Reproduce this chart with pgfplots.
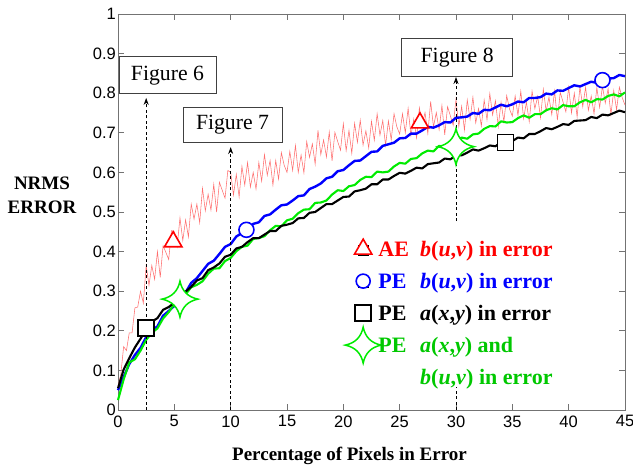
\documentclass[border=0pt]{standalone}
\usepackage{fontspec}
\setmainfont{Liberation Serif}
\newfontfamily\ticksf{Liberation Sans}
\usepackage{pgfplots}
\pgfplotsset{compat=1.18}
\usetikzlibrary{arrows.meta}
\definecolor{linegreen}{RGB}{0,235,0}
\definecolor{textgreen}{RGB}{0,200,0}
\definecolor{redline}{RGB}{255,110,110}
\pgfdeclareplotmark{sparkle}{%
 \pgfpathmoveto{\pgfqpoint{0pt}{\pgfplotmarksize}}%
 \pgfpathquadraticcurveto{\pgfqpoint{0.17\pgfplotmarksize}{0.17\pgfplotmarksize}}{\pgfqpoint{\pgfplotmarksize}{0pt}}%
 \pgfpathquadraticcurveto{\pgfqpoint{0.17\pgfplotmarksize}{-0.17\pgfplotmarksize}}{\pgfqpoint{0pt}{-\pgfplotmarksize}}%
 \pgfpathquadraticcurveto{\pgfqpoint{-0.17\pgfplotmarksize}{-0.17\pgfplotmarksize}}{\pgfqpoint{-\pgfplotmarksize}{0pt}}%
 \pgfpathquadraticcurveto{\pgfqpoint{-0.17\pgfplotmarksize}{0.17\pgfplotmarksize}}{\pgfqpoint{0pt}{\pgfplotmarksize}}%
 \pgfpathclose\pgfusepathqfillstroke}
\pgfplotsset{legmark/.style={legend image code/.code={\path (-5pt,-5pt) rectangle (5pt,5pt); \draw[##1,overlay] plot coordinates {(0pt,1.5pt)};}}}
\begin{document}
\begin{tikzpicture}
\begin{axis}[name=ax,
  scale only axis, width=507pt, height=396pt,
  xmin=0, xmax=45, ymin=0, ymax=1,
  xtick={0,5,10,15,20,25,30,35,40,45},
  ytick={0,0.1,0.2,0.3,0.4,0.5,0.6,0.7,0.8,0.9,1},
  tick align=inside, major tick length=6pt,
  axis line style={black!55, line width=0.7pt},
  tick style={black!55, line width=0.7pt},
  /pgf/number format/assume math mode=true,
  tick label style={font=\ticksf\fontsize{16.5}{19}\selectfont},
  yticklabel style={inner xsep=2pt},
  xticklabel style={yshift=-2pt},
  clip=false,
  xlabel={Percentage of Pixels in Error},
  every axis x label/.style={at={(rel axis cs:0.4566,0)}, anchor=base, yshift=-50pt, font=\fontsize{19}{22}\selectfont\bfseries},
  legend style={at={(axis cs:21.3,0.429)}, anchor=north west, draw=none, fill=none,
    inner sep=0pt, outer sep=0pt, column sep=10pt, row sep=11pt,
    font=\fontsize{22}{32}\selectfont\bfseries,
    nodes={inner sep=0pt, text height=16pt, text depth=5pt}},
  legend cell align=left,
]
% AE b(u,v)
\addplot[redline, line width=0.55pt, forget plot] coordinates {
(0,0.06)(0.25,0.09)(0.5,0.16)(0.75,0.15)(1,0.195)(1.25,0.195)(1.5,0.258)(1.75,0.26)(2,0.30)
(2.25,0.27)(2.5,0.365)(2.75,0.315)(3,0.365)(3.25,0.33)(3.5,0.40)(3.75,0.335)(4,0.415)(4.25,0.398)(4.5,0.38)(4.75,0.453)
(5,0.45)(5.25,0.413)(5.5,0.485)(5.75,0.428)(6,0.48)(6.25,0.437)(6.5,0.52)(6.75,0.482)(7,0.52)(7.25,0.473)
(7.5,0.56)(7.75,0.503)(8,0.545)(8.25,0.505)(8.5,0.57)(8.75,0.50)(9,0.575)(9.25,0.555)(9.5,0.535)(9.75,0.605)
(10,0.60)(10.25,0.543)(10.5,0.595)(10.75,0.538)(11,0.615)(11.25,0.568)(11.5,0.625)(11.75,0.563)(12,0.60)(12.25,0.558)
(12.5,0.625)(12.75,0.578)(13,0.645)(13.25,0.593)(13.5,0.63)(13.75,0.568)(14,0.63)(14.25,0.583)(14.5,0.65)(14.75,0.618)
(15,0.60)(15.25,0.653)(15.5,0.605)(15.75,0.668)(16,0.60)(16.25,0.644)(16.5,0.599)(16.75,0.678)(17,0.638)(17.25,0.672)
(17.5,0.621)(17.75,0.706)(18,0.645)(18.25,0.682)(18.5,0.639)(18.75,0.702)(19,0.629)(19.25,0.701)(19.5,0.678)(19.75,0.656)
(20,0.723)(20.25,0.655)(20.5,0.706)(20.75,0.648)(21,0.724)(21.25,0.676)(21.5,0.732)(21.75,0.669)(22,0.705)(22.25,0.662)
(22.5,0.729)(22.75,0.681)(23,0.748)(23.25,0.694)(23.5,0.731)(23.75,0.668)(24,0.73)(24.25,0.682)(24.5,0.748)(24.75,0.715)
(25,0.697)(25.25,0.748)(25.5,0.70)(25.75,0.762)(26,0.693)(26.25,0.735)(26.5,0.687)(26.75,0.763)(27,0.72)(27.25,0.751)
(27.5,0.698)(27.75,0.779)(28,0.715)(28.25,0.751)(28.5,0.708)(28.75,0.769)(29,0.695)(29.25,0.766)(29.5,0.743)(29.75,0.719)
(30,0.785)(30.25,0.716)(30.5,0.767)(30.75,0.707)(31,0.783)(31.25,0.734)(31.5,0.79)(31.75,0.725)(32,0.761)(32.25,0.717)
(32.5,0.783)(32.75,0.733)(33,0.799)(33.25,0.745)(33.5,0.781)(33.75,0.716)(34,0.777)(34.25,0.728)(34.5,0.794)(34.75,0.76)
(35,0.742)(35.25,0.793)(35.5,0.744)(35.75,0.805)(36,0.736)(36.25,0.777)(36.5,0.728)(36.75,0.805)(37,0.761)(37.25,0.792)
(37.5,0.738)(37.75,0.81)(38,0.755)(38.25,0.79)(38.5,0.746)(38.75,0.806)(39,0.732)(39.25,0.802)(39.5,0.778)(39.75,0.753)
(40,0.815)(40.25,0.75)(40.5,0.80)(40.75,0.74)(41,0.816)(41.25,0.766)(41.5,0.815)(41.75,0.757)(42,0.793)(42.25,0.748)
(42.5,0.814)(42.75,0.764)(43,0.818)(43.25,0.775)(43.5,0.811)(43.75,0.746)(44,0.807)(44.25,0.758)(44.5,0.815)(44.75,0.789)(45,0.77)
};
% PE b(u,v)
\addplot[blue, line width=2.4pt, line join=round, forget plot] coordinates {
(0,0.05)(0.5,0.083)(1,0.116)(1.5,0.139)(2,0.157)(2.5,0.184)(3,0.202)(3.5,0.211)(4,0.238)(4.5,0.25)
(5,0.263)(5.5,0.283)(6,0.297)(6.5,0.321)(7,0.333)(7.5,0.351)(8,0.369)(8.5,0.377)(9,0.394)(9.5,0.412)
(10,0.419)(10.5,0.438)(11,0.447)(11.5,0.455)(12,0.47)(12.5,0.474)(13,0.49)(13.5,0.494)(14,0.506)(14.5,0.517)
(15,0.519)(15.5,0.529)(16,0.54)(16.5,0.542)(17,0.558)(17.5,0.564)(18,0.572)(18.5,0.585)(19,0.589)(19.5,0.603)
(20,0.606)(20.5,0.618)(21,0.629)(21.5,0.63)(22,0.641)(22.5,0.652)(23,0.653)(23.5,0.667)(24,0.671)(24.5,0.675)
(25,0.686)(25.5,0.687)(26,0.698)(26.5,0.698)(27,0.706)(27.5,0.715)(28,0.713)(28.5,0.719)(29,0.727)(29.5,0.726)
(30,0.738)(30.5,0.739)(31,0.741)(31.5,0.75)(32,0.748)(32.5,0.758)(33,0.757)(33.5,0.764)(34,0.771)(34.5,0.767)
(35,0.772)(35.5,0.779)(36,0.777)(36.5,0.788)(37,0.788)(37.5,0.79)(38,0.799)(38.5,0.797)(39,0.807)(39.5,0.806)
(40,0.813)(40.5,0.82)(41,0.817)(41.5,0.823)(42,0.829)(42.5,0.826)(43,0.836)(43.5,0.837)(44,0.838)(44.5,0.846)(45,0.843)
};
% PE a(x,y) and b(u,v)
\addplot[linegreen, line width=2.1pt, line join=round, forget plot] coordinates {
(0,0.025)(0.5,0.077)(1,0.12)(1.5,0.128)(2,0.15)(2.5,0.177)(3,0.195)(3.5,0.206)(4,0.231)(4.5,0.247)
(5,0.268)(5.5,0.284)(6,0.292)(6.5,0.31)(7,0.316)(7.5,0.325)(8,0.344)(8.5,0.357)(9,0.358)(9.5,0.376)
(10,0.384)(10.5,0.401)(11,0.412)(11.5,0.415)(12,0.432)(12.5,0.434)(13,0.439)(13.5,0.454)(14,0.465)(14.5,0.464)
(15,0.479)(15.5,0.483)(16,0.497)(16.5,0.506)(17,0.507)(17.5,0.523)(18,0.524)(18.5,0.529)(19,0.544)(19.5,0.555)
(20,0.553)(20.5,0.565)(21,0.568)(21.5,0.581)(22,0.589)(22.5,0.588)(23,0.602)(23.5,0.60)(24,0.602)(24.5,0.615)
(25,0.624)(25.5,0.622)(26,0.634)(26.5,0.636)(27,0.648)(27.5,0.655)(28,0.653)(28.5,0.667)(29,0.665)(29.5,0.667)
(30,0.679)(30.5,0.688)(31,0.685)(31.5,0.696)(32,0.698)(32.5,0.71)(33,0.717)(33.5,0.716)(34,0.729)(34.5,0.726)
(35,0.727)(35.5,0.737)(36,0.744)(36.5,0.738)(37,0.747)(37.5,0.747)(38,0.757)(38.5,0.762)(39,0.759)(39.5,0.77)
(40,0.767)(40.5,0.767)(41,0.777)(41.5,0.783)(42,0.777)(42.5,0.785)(43,0.784)(43.5,0.793)(44,0.797)(44.5,0.792)(45,0.802)
};
% PE a(x,y)
\addplot[black, line width=2.1pt, line join=round, forget plot] coordinates {
(0,0.055)(0.5,0.102)(1,0.131)(1.5,0.158)(2,0.18)(2.5,0.203)(3,0.223)(3.5,0.232)(4,0.253)(4.5,0.26)
(5,0.271)(5.5,0.294)(6,0.299)(6.5,0.311)(7,0.327)(7.5,0.333)(8,0.353)(8.5,0.36)(9,0.37)(9.5,0.387)
(10,0.392)(10.5,0.408)(11,0.412)(11.5,0.424)(12,0.434)(12.5,0.434)(13,0.443)(13.5,0.452)(14,0.452)(14.5,0.465)
(15,0.468)(15.5,0.472)(16,0.484)(16.5,0.485)(17,0.498)(17.5,0.50)(18,0.51)(18.5,0.52)(19,0.52)(19.5,0.529)
(20,0.538)(20.5,0.539)(21,0.552)(21.5,0.555)(22,0.559)(22.5,0.57)(23,0.57)(23.5,0.582)(24,0.582)(24.5,0.591)
(25,0.599)(25.5,0.597)(26,0.604)(26.5,0.612)(27,0.61)(27.5,0.621)(28,0.623)(28.5,0.625)(29,0.635)(29.5,0.633)
(30,0.643)(30.5,0.643)(31,0.65)(31.5,0.658)(32,0.655)(32.5,0.661)(33,0.668)(33.5,0.666)(34,0.676)(34.5,0.677)
(35,0.679)(35.5,0.688)(36,0.686)(36.5,0.697)(37,0.697)(37.5,0.704)(38,0.712)(38.5,0.709)(39,0.715)(39.5,0.722)
(40,0.72)(40.5,0.73)(41,0.731)(41.5,0.732)(42,0.74)(42.5,0.737)(43,0.746)(43.5,0.744)(44,0.75)(44.5,0.756)(45,0.752)
};
% markers
\addplot[only marks, mark=triangle*, mark size=10pt, mark options={draw=red, fill=white, line width=1.6pt}, forget plot] coordinates {(4.9,0.425)(26.8,0.725)};
\addplot[only marks, mark=*, mark size=7.5pt, mark options={draw=blue, fill=white, line width=1.6pt}, forget plot] coordinates {(11.4,0.455)(43.0,0.833)};
\addplot[only marks, mark=square*, mark size=8pt, mark options={draw=black, fill=white, line width=1.6pt}, forget plot] coordinates {(2.5,0.207)(34.4,0.676)};
\addplot[only marks, mark=sparkle, mark size=18pt, mark options={draw=linegreen, fill=white, line width=1.5pt}, forget plot] coordinates {(5.5,0.28)(30.0,0.665)};
% legend
\addlegendimage{only marks, mark=triangle*, mark size=10pt, mark options={draw=red, fill=white, line width=1.6pt}, legmark}
\addlegendentry{{\color{red}\makebox[1.9em][l]{AE}\textit{b}(\textit{u},\textit{v}) in error}}
\addlegendimage{only marks, mark=*, mark size=7pt, mark options={draw=blue, fill=white, line width=1.6pt}, legmark}
\addlegendentry{{\color{blue}\makebox[1.9em][l]{PE}\textit{b}(\textit{u},\textit{v}) in error}}
\addlegendimage{only marks, mark=square*, mark size=8pt, mark options={draw=black, fill=white, line width=1.6pt}, legmark}
\addlegendentry{{\makebox[1.9em][l]{PE}\textit{a}(\textit{x},\textit{y}) in error}}
\addlegendimage{only marks, mark=sparkle, mark size=18pt, mark options={draw=linegreen, fill=white, line width=1.5pt}, legmark}
\addlegendentry{{\color{textgreen}\makebox[1.9em][l]{PE}\parbox[t]{7em}{\textit{a}(\textit{x},\textit{y}) and\\\textit{b}(\textit{u},\textit{v}) in error}}}
% annotations
\draw[black, line width=0.8pt, dash pattern=on 3pt off 2.5pt, -{Stealth[length=7pt,width=5pt]}] (axis cs:2.5,0) -- (axis cs:2.5,0.788);
\draw[black, line width=0.8pt, dash pattern=on 3pt off 2.5pt, -{Stealth[length=7pt,width=5pt]}] (axis cs:10,0) -- (axis cs:10,0.664);
\draw[black, line width=0.8pt, dash pattern=on 3pt off 2.5pt] (axis cs:30,0) -- (axis cs:30,0.058);
\draw[black, line width=0.8pt, dash pattern=on 3pt off 2.5pt, -{Stealth[length=7pt,width=5pt]}] (axis cs:30,0.477) -- (axis cs:30,0.841);
\node[draw=black!75, line width=0.9pt, fill=white, minimum width=97pt, minimum height=37pt, inner sep=0pt, font=\fontsize{21.7}{24}\selectfont] at (axis cs:4.39,0.845) {Figure 6};
\node[draw=black!75, line width=0.9pt, fill=white, minimum width=99pt, minimum height=35pt, inner sep=0pt, font=\fontsize{21.7}{24}\selectfont] at (axis cs:10.16,0.721) {Figure 7};
\node[draw=black!75, line width=0.9pt, fill=white, minimum width=111pt, minimum height=38pt, inner sep=0pt, font=\fontsize{21.7}{24}\selectfont] at (axis cs:30.1,0.891) {Figure 8};
% y label
\node[anchor=base, font=\fontsize{19}{22}\selectfont\bfseries] at ([xshift=-76pt]rel axis cs:0,0.558) {NRMS};
\node[anchor=base, font=\fontsize{19}{22}\selectfont\bfseries] at ([xshift=-76pt]rel axis cs:0,0.497) {ERROR};
\end{axis}
\pgfresetboundingbox
\path ([xshift=-118pt,yshift=-56pt]ax.south west) rectangle ([xshift=8pt,yshift=14pt]ax.north east);
\end{tikzpicture}
\end{document}
